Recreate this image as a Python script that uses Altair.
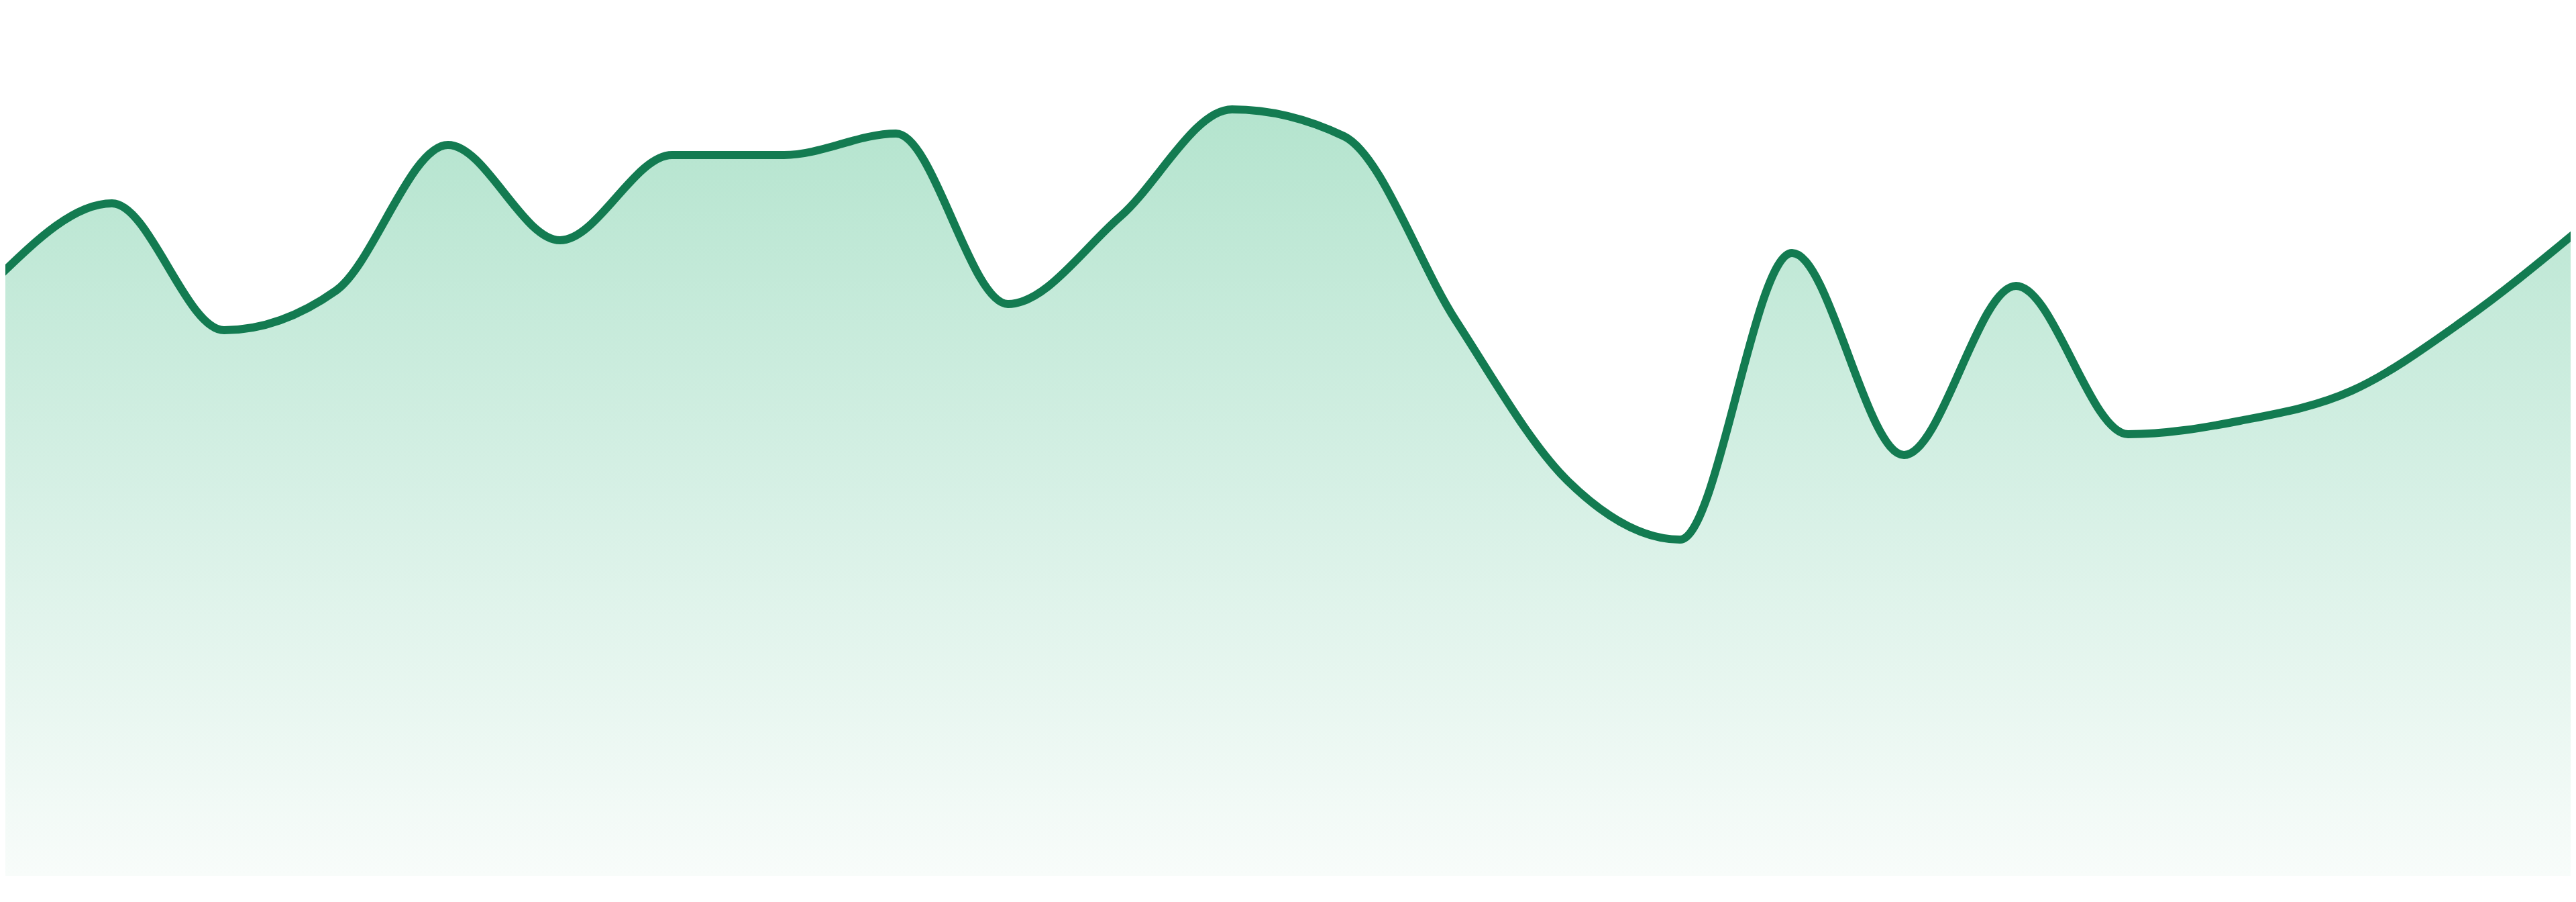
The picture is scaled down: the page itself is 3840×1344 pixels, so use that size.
import altair as alt
import pandas as pd

# Data: index positions and values (height above baseline)
idx = list(range(24))
values = [895, 1002, 813, 872, 1089, 947, 1074, 1074, 1106, 852, 982, 1142,
          1102, 827, 588, 501, 928, 627, 879, 658, 678, 723, 828, 959]

df = pd.DataFrame({"i": idx, "v": values})

W = 3824
H = 1297
step = 3840 / 23
x_scale = alt.Scale(domain=[8 / step, 3832 / step], nice=False, zero=False)
y_scale = alt.Scale(domain=[0, H], nice=False, zero=True)

base = alt.Chart(df).encode(
    x=alt.X("i:Q", scale=x_scale, axis=None),
    y=alt.Y("v:Q", scale=y_scale, axis=None),
)

area = base.mark_area(
    interpolate="monotone",
    clip=True,
    color=alt.Gradient(
        gradient="linear",
        stops=[
            alt.GradientStop(color="#b4e4ce", offset=0),
            alt.GradientStop(color="#d6f0e5", offset=0.5),
            alt.GradientStop(color="#f8fcfa", offset=1),
        ],
        x1=1, x2=1, y1=0, y2=1,
    ),
)

line = base.mark_line(
    interpolate="monotone",
    clip=True,
    color="#137b51",
    strokeWidth=12,
)

chart = (
    alt.layer(area, line)
    .properties(width=W, height=H, padding=0, background="white")
    .configure_view(strokeWidth=0)
)

chart.save("out.html", embed_options={"renderer": "svg", "actions": False})
